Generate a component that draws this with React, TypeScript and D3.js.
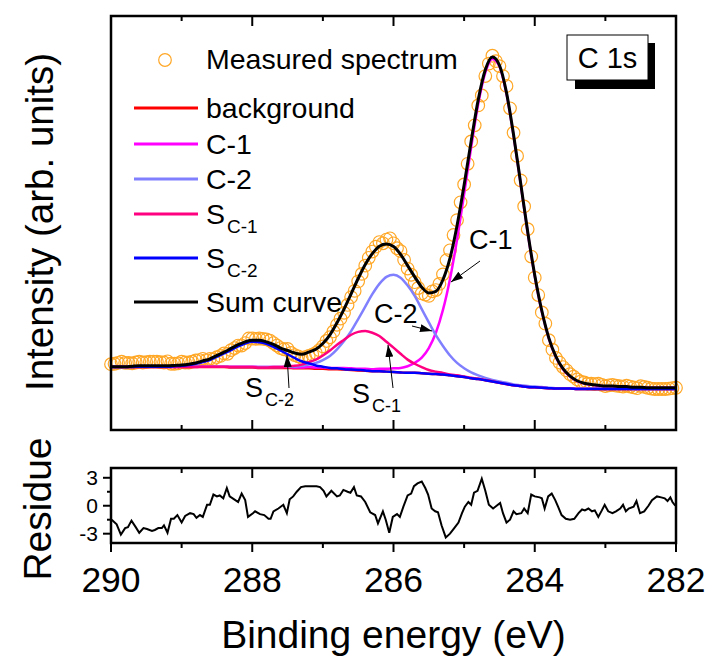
import React from "react";
import * as d3 from "d3";

// ---------- DATA ----------
// Fit grid: 290.0 -> 282.0 eV, step 0.1 eV (81 points)
const fitEnergy: number[] = d3.range(81).map((i) => +(290 - i * 0.1).toFixed(2));

const background: number[] = [
  15.2, 15.2, 15.2, 15.2, 15.2, 15.2, 15.2, 15.2, 15.2, 15.2,
  15.2, 15.2, 15.2, 15.2, 15.2, 15.2, 15.2, 15.1, 15.1, 15.1,
  15.1, 15.0, 15.0, 15.0, 15.0, 15.0, 14.9, 14.9, 14.9, 14.8,
  14.8, 14.7, 14.7, 14.6, 14.5, 14.4, 14.3, 14.2, 14.2, 14.1,
  14.0, 13.9, 13.8, 13.8, 13.7, 13.6, 13.5, 13.4, 13.2, 13.0,
  12.8, 12.5, 12.3, 12.0, 11.7, 11.4, 11.1, 10.8, 10.6, 10.4,
  10.3, 10.2, 10.1, 10.0, 10.0, 10.0, 9.9, 9.9, 9.9, 9.9,
  9.9, 9.9, 9.9, 9.9, 9.9, 9.9, 9.9, 9.9, 9.9, 9.9,
  9.9,
];

const c1Peak: number[] = [
  0.1, 0.1, 0.1, 0.1, 0.1, 0.1, 0.1, 0.1, 0.1, 0.1,
  0.1, 0.1, 0.1, 0.1, 0.1, 0.1, 0.1, 0.2, 0.2, 0.2,
  0.2, 0.2, 0.2, 0.2, 0.2, 0.2, 0.2, 0.2, 0.3, 0.3,
  0.3, 0.3, 0.3, 0.4, 0.4, 0.4, 0.5, 0.5, 0.6, 0.7,
  0.9, 1.1, 1.6, 2.4, 3.8, 6.2, 10.0, 15.6, 23.3, 33.0,
  44.2, 55.8, 66.5, 74.3, 77.9, 76.4, 70.1, 60.3, 48.9, 37.3,
  26.9, 18.4, 12.0, 7.6, 4.7, 2.9, 1.9, 1.3, 1.0, 0.8,
  0.6, 0.6, 0.5, 0.5, 0.4, 0.4, 0.3, 0.3, 0.3, 0.3,
  0.3,
];

const c2Peak: number[] = [
  0.0, 0.0, 0.0, 0.1, 0.1, 0.1, 0.1, 0.1, 0.1, 0.1,
  0.1, 0.1, 0.1, 0.1, 0.1, 0.1, 0.1, 0.1, 0.1, 0.1,
  0.1, 0.2, 0.2, 0.2, 0.2, 0.3, 0.4, 0.6, 0.9, 1.4,
  2.1, 3.2, 4.8, 6.9, 9.4, 12.4, 15.5, 18.6, 21.1, 22.9,
  23.5, 22.9, 21.1, 18.6, 15.5, 12.4, 9.4, 6.9, 4.8, 3.2,
  2.1, 1.4, 0.9, 0.6, 0.4, 0.3, 0.3, 0.2, 0.2, 0.2,
  0.2, 0.2, 0.1, 0.1, 0.1, 0.1, 0.1, 0.1, 0.1, 0.1,
  0.1, 0.1, 0.1, 0.1, 0.0, 0.0, 0.0, 0.0, 0.0, 0.0,
  0.0,
];

const sc1Peak: number[] = [
  0.0, 0.0, 0.0, 0.0, 0.0, 0.0, 0.0, 0.0, 0.0, 0.0,
  0.0, 0.0, 0.0, 0.1, 0.1, 0.1, 0.1, 0.1, 0.1, 0.1,
  0.1, 0.1, 0.1, 0.2, 0.2, 0.4, 0.6, 0.9, 1.5, 2.2,
  3.2, 4.5, 5.9, 7.2, 8.5, 9.3, 9.6, 9.3, 8.5, 7.2,
  5.9, 4.5, 3.2, 2.2, 1.5, 0.9, 0.6, 0.4, 0.2, 0.2,
  0.1, 0.1, 0.1, 0.1, 0.1, 0.0, 0.0, 0.0, 0.0, 0.0,
  0.0, 0.0, 0.0, 0.0, 0.0, 0.0, 0.0, 0.0, 0.0, 0.0,
  0.0, 0.0, 0.0, 0.0, 0.0, 0.0, 0.0, 0.0, 0.0, 0.0,
  0.0,
];

const sc2Peak: number[] = [
  0.0, 0.0, 0.0, 0.0, 0.1, 0.1, 0.1, 0.1, 0.1, 0.2,
  0.3, 0.5, 0.8, 1.2, 1.7, 2.5, 3.3, 4.2, 5.1, 5.8,
  6.2, 6.2, 5.8, 5.1, 4.2, 3.3, 2.5, 1.7, 1.2, 0.8,
  0.5, 0.3, 0.2, 0.1, 0.1, 0.1, 0.1, 0.0, 0.0, 0.0,
  0.0, 0.0, 0.0, 0.0, 0.0, 0.0, 0.0, 0.0, 0.0, 0.0,
  0.0, 0.0, 0.0, 0.0, 0.0, 0.0, 0.0, 0.0, 0.0, 0.0,
  0.0, 0.0, 0.0, 0.0, 0.0, 0.0, 0.0, 0.0, 0.0, 0.0,
  0.0, 0.0, 0.0, 0.0, 0.0, 0.0, 0.0, 0.0, 0.0, 0.0,
  0.0,
];

// Measured spectrum: 290.00 -> 282.00 eV, step 0.05 eV (161 points)
const measuredEnergy: number[] = d3.range(161).map((i) => +(290 - i * 0.05).toFixed(2));
const measured: number[] = [
  15.9, 16.0, 16.2, 16.5, 16.2, 16.2, 16.1, 16.3, 16.5, 16.3,
  16.4, 16.5, 16.5, 16.5, 16.4, 16.3, 16.6, 16.0, 16.0, 16.1,
  16.5, 16.3, 16.3, 16.5, 16.8, 16.9, 17.2, 16.9, 17.2, 17.1,
  17.6, 17.9, 18.5, 18.4, 19.3, 19.8, 20.4, 20.4, 21.0, 22.1,
  22.1, 22.0, 22.1, 22.0, 21.9, 21.6, 21.0, 20.4, 19.8, 19.5,
  19.6, 18.6, 18.1, 17.8, 17.4, 17.6, 17.9, 18.2, 18.6, 19.3,
  20.2, 21.5, 22.4, 23.8, 25.4, 26.9, 28.3, 30.2, 32.1, 33.6,
  35.9, 37.7, 39.7, 41.6, 43.1, 44.3, 45.4, 45.1, 46.0, 46.3,
  45.1, 43.9, 43.2, 41.1, 39.0, 37.5, 35.7, 34.3, 33.0, 32.7,
  32.4, 33.5, 33.8, 35.3, 37.6, 41.0, 43.4, 47.1, 50.7, 55.0,
  59.3, 64.3, 69.7, 73.6, 78.4, 80.8, 85.5, 88.5, 90.4, 89.1,
  87.9, 85.5, 83.1, 77.7, 71.8, 66.2, 60.3, 54.0, 48.5, 41.9,
  36.8, 32.6, 28.4, 25.7, 21.7, 19.4, 17.4, 16.3, 15.2, 14.4,
  13.5, 12.9, 12.2, 11.7, 11.5, 11.2, 11.2, 11.1, 11.2, 10.9,
  10.6, 10.8, 10.9, 10.7, 10.6, 10.5, 10.7, 10.5, 10.3, 10.1,
  10.6, 10.4, 10.2, 10.0, 9.9, 9.9, 9.9, 9.9, 10.0, 10.1,
  10.2,
];

// Residue trace
const residueEnergy: number[] = [
  289.99, 289.92, 289.86, 289.8, 289.76, 289.71, 289.65, 289.6, 289.54, 289.49,
  289.42, 289.38, 289.33, 289.28, 289.25, 289.2, 289.15, 289.11, 289.06, 289.0,
  288.95, 288.88, 288.83, 288.79, 288.74, 288.7, 288.64, 288.6, 288.55, 288.5,
  288.46, 288.41, 288.36, 288.32, 288.24, 288.2, 288.15, 288.1, 288.06, 287.99,
  287.96, 287.89, 287.83, 287.77, 287.74, 287.7, 287.63, 287.56, 287.51, 287.47,
  287.42, 287.37, 287.31, 287.25, 287.21, 287.16, 287.09, 287.04, 286.99, 286.95,
  286.88, 286.8, 286.76, 286.71, 286.65, 286.61, 286.56, 286.52, 286.46, 286.4,
  286.33, 286.26, 286.22, 286.15, 286.11, 286.06, 286.01, 285.95, 285.91, 285.86,
  285.8, 285.75, 285.71, 285.66, 285.6, 285.55, 285.51, 285.46, 285.41, 285.37,
  285.32, 285.26, 285.2, 285.14, 285.08, 285.03, 284.99, 284.94, 284.9, 284.86,
  284.81, 284.75, 284.7, 284.65, 284.59, 284.54, 284.49, 284.45, 284.4, 284.35,
  284.3, 284.26, 284.19, 284.15, 284.1, 284.05, 284.0, 283.93, 283.9, 283.86,
  283.81, 283.76, 283.71, 283.67, 283.62, 283.56, 283.5, 283.44, 283.38, 283.33,
  283.29, 283.24, 283.19, 283.15, 283.1, 283.05, 283.01, 282.96, 282.9, 282.85,
  282.79, 282.75, 282.71, 282.67, 282.6, 282.56, 282.51, 282.45, 282.39, 282.34,
  282.27, 282.21, 282.16, 282.12, 282.08, 282.05, 282.01,
];
const residueValue: number[] = [
  -1.5, -2.0, -3.1, -2.4, -2.3, -1.6, -2.3, -2.9, -2.4, -2.5,
  -2.7, -2.6, -2.4, -2.4, -2.1, -2.9, -1.4, -1.4, -1.0, -1.8,
  -1.1, -0.8, -0.9, -1.3, -1.0, -1.2, 0.1, 0.1, 1.2, 1.0,
  1.1, 0.8, 1.9, 1.0, 0.6, 0.4, 1.3, 0.6, -1.2, -0.8,
  -0.6, -0.9, -1.0, -1.4, -1.4, -0.6, -0.3, 0.1, -0.8, 0.7,
  1.0, 1.5, 2.0, 2.1, 2.1, 2.1, 2.1, 2.0, 1.6, 1.0,
  1.6, 1.0, 1.1, 1.7, 1.5, 1.4, 2.0, 1.1, 1.0, 0.4,
  -0.7, -1.0, -1.9, -0.6, -1.5, -2.9, -1.2, -0.9, -1.2, -0.1,
  1.1, 1.3, 2.1, 2.4, 2.6, 1.9, 1.2, -0.3, -0.6, -0.7,
  -2.1, -3.4, -3.0, -2.4, -1.8, -0.8, -0.1, 0.4, 0.1, 1.4,
  1.6, 2.9, 1.6, 0.1, -0.3, 0.0, 0.3, -0.8, -1.8, -1.5,
  -0.6, -0.9, -0.8, -0.3, -0.8, 1.2, 1.0, 0.9, 0.8, -0.3,
  1.0, 1.3, 0.6, -0.1, -1.0, -1.4, -1.5, -1.4, -0.8, -0.4,
  -0.5, -0.3, -0.6, -0.5, -1.2, -0.5, 0.1, -0.6, -0.8, -0.6,
  -0.3, 0.1, -0.6, -0.3, -0.1, 0.5, -0.8, -0.6, 0.0, 0.6,
  1.0, 0.9, 0.8, 0.5, 0.9, 0.4, 0.0,
];

const majorTicks: number[] = [290, 288, 286, 284, 282];
const minorTicks: number[] = [289, 287, 285, 283];
const residueMajor: number[] = [3, 0, -3];
const residueMinor: number[] = [1.5, -1.5];

// ---------- LAYOUT ----------
const W = 708;
const H = 657;
const L = 111;
const R = 676;
const mainTop = 16;
const mainBottom = 430;
const resTop = 468;
const resBottom = 543;
const FONT = "'Liberation Sans', Arial, Helvetica, sans-serif";

const x = d3.scaleLinear().domain([290, 282]).range([L, R]);
const y = d3.scaleLinear().domain([0, 100]).range([mainBottom, mainTop]);
const yr = d3.scaleLinear().domain([-4, 4.05]).range([resBottom, resTop]);

const curveLine = d3
  .line<[number, number]>()
  .x((d) => x(d[0]))
  .y((d) => y(d[1]))
  .curve(d3.curveMonotoneX);

const series = (peak: number[] | null): [number, number][] =>
  fitEnergy.map((e, i) => [e, background[i] + (peak ? peak[i] : 0)]);

const sumCurve: [number, number][] = fitEnergy.map((e, i) => [
  e,
  background[i] + c1Peak[i] + c2Peak[i] + sc1Peak[i] + sc2Peak[i],
]);

const residueLine = d3
  .line<number>()
  .x((_, i) => x(residueEnergy[i]))
  .y((d) => yr(d))
  .curve(d3.curveLinear);

const COLORS = {
  measured: "#FFA726",
  background: "#FF0000",
  c1: "#FF00FF",
  c2: "#8080FF",
  sc1: "#FF0080",
  sc2: "#0000FF",
  sum: "#000000",
};

export default function App() {
  const legendRows = [
    { y: 108, color: COLORS.background, main: "background", sub: "" },
    { y: 144, color: COLORS.c1, main: "C-1", sub: "" },
    { y: 179, color: COLORS.c2, main: "C-2", sub: "" },
    { y: 214, color: COLORS.sc1, main: "S", sub: "C-1" },
    { y: 258, color: COLORS.sc2, main: "S", sub: "C-2" },
    { y: 302, color: COLORS.sum, main: "Sum curve", sub: "" },
  ];

  return (
    <svg
      width={W}
      height={H}
      viewBox={`0 0 ${W} ${H}`}
      style={{ position: "absolute", left: 0, top: 0, background: "#fff" }}
      fontFamily={FONT}
    >
      <defs>
        <marker
          id="arrow"
          viewBox="0 0 12 8"
          refX="12"
          refY="4"
          markerWidth="12"
          markerHeight="8"
          markerUnits="userSpaceOnUse"
          orient="auto"
        >
          <path d="M0,0 L12,4 L0,8 Z" fill="#000" />
        </marker>
      </defs>

      {/* measured circles */}
      <g fill="none" stroke={COLORS.measured} strokeWidth={1.2}>
        {measured.map((v, i) => (
          <circle key={i} cx={x(measuredEnergy[i])} cy={y(v)} r={6.3} />
        ))}
      </g>

      {/* component curves */}
      <g fill="none" strokeWidth={2.5}>
        <path d={curveLine(series(null)) || ""} stroke={COLORS.background} />
        <path d={curveLine(series(c1Peak)) || ""} stroke={COLORS.c1} />
        <path d={curveLine(series(c2Peak)) || ""} stroke={COLORS.c2} />
        <path d={curveLine(series(sc1Peak)) || ""} stroke={COLORS.sc1} />
        <path d={curveLine(series(sc2Peak)) || ""} stroke={COLORS.sc2} />
        <path d={curveLine(sumCurve) || ""} stroke={COLORS.sum} strokeWidth={3} />
      </g>

      {/* main frame */}
      <rect
        x={L}
        y={mainTop}
        width={R - L}
        height={mainBottom - mainTop}
        fill="none"
        stroke="#000"
        strokeWidth={2.5}
      />
      <g stroke="#000" strokeWidth={2}>
        {majorTicks.map((t) => (
          <g key={"mt" + t}>
            <line x1={x(t)} x2={x(t)} y1={mainTop} y2={mainTop + 10} />
            <line x1={x(t)} x2={x(t)} y1={mainBottom} y2={mainBottom - 10} />
          </g>
        ))}
        {minorTicks.map((t) => (
          <g key={"mn" + t}>
            <line x1={x(t)} x2={x(t)} y1={mainTop} y2={mainTop + 5} />
            <line x1={x(t)} x2={x(t)} y1={mainBottom} y2={mainBottom - 5} />
          </g>
        ))}
      </g>

      {/* legend */}
      <circle cx={165} cy={60} r={6.3} fill="none" stroke={COLORS.measured} strokeWidth={1.2} />
      <text x={206} y={69} fontSize={28.5}>
        Measured spectrum
      </text>
      {legendRows.map((r) => (
        <g key={r.y}>
          <line x1={134} x2={198} y1={r.y} y2={r.y} stroke={r.color} strokeWidth={3} />
          <text x={206} y={r.y + 10} fontSize={28.5}>
            {r.main}
            {r.sub ? (
              <tspan fontSize={19} dx={2} dy={9}>
                {r.sub}
              </tspan>
            ) : null}
          </text>
        </g>
      ))}

      {/* C 1s label box */}
      <rect x={575} y={43} width={80} height={46} fill="#000" />
      <rect x={567} y={35} width={81} height={45} fill="#fff" stroke="#000" strokeWidth={1} />
      <text x={607.5} y={68} fontSize={29} textAnchor="middle">
        C 1s
      </text>

      {/* annotations */}
      <g fontSize={27}>
        <text x={469} y={249}>C-1</text>
        <text x={374} y={323}>C-2</text>
        <text x={245} y={397}>
          S
          <tspan fontSize={18} dx={2} dy={9}>
            C-2
          </tspan>
        </text>
        <text x={352} y={403}>
          S
          <tspan fontSize={18} dx={2} dy={9}>
            C-1
          </tspan>
        </text>
      </g>
      <g stroke="#000" strokeWidth={1}>
        <line x1={480} y1={261} x2={451} y2={282} markerEnd="url(#arrow)" />
        <line x1={412} y1={326} x2={432} y2={331} markerEnd="url(#arrow)" />
        <line x1={289} y1={388} x2={287} y2={355} markerEnd="url(#arrow)" />
        <line x1={393} y1={388} x2={388} y2={345} markerEnd="url(#arrow)" />
      </g>

      {/* residue panel */}
      <path d={residueLine(residueValue) || ""} fill="none" stroke="#000" strokeWidth={2} />
      <rect
        x={L}
        y={resTop}
        width={R - L}
        height={resBottom - resTop}
        fill="none"
        stroke="#000"
        strokeWidth={2.5}
      />
      <g stroke="#000" strokeWidth={2}>
        {majorTicks.map((t) => (
          <g key={"rt" + t}>
            <line x1={x(t)} x2={x(t)} y1={resTop} y2={resTop + 10} />
            <line x1={x(t)} x2={x(t)} y1={resBottom} y2={resBottom + 9} />
          </g>
        ))}
        {minorTicks.map((t) => (
          <g key={"rn" + t}>
            <line x1={x(t)} x2={x(t)} y1={resTop} y2={resTop + 5} />
            <line x1={x(t)} x2={x(t)} y1={resBottom} y2={resBottom + 5} />
          </g>
        ))}
        {residueMajor.map((t) => (
          <line key={"ry" + t} x1={L} x2={L - 8} y1={yr(t)} y2={yr(t)} />
        ))}
        {residueMinor.map((t) => (
          <line key={"rym" + t} x1={L} x2={L - 4} y1={yr(t)} y2={yr(t)} />
        ))}
      </g>
      <g fontSize={21} textAnchor="end">
        {residueMajor.map((t) => (
          <text key={"ryl" + t} x={98} y={yr(t) + 7.5}>
            {t}
          </text>
        ))}
      </g>

      {/* x tick labels */}
      <g fontSize={35.5} textAnchor="middle">
        {majorTicks.map((t) => (
          <text key={"xl" + t} x={x(t)} y={592}>
            {t}
          </text>
        ))}
      </g>

      {/* axis titles */}
      <text x={393.5} y={648} fontSize={39} textAnchor="middle">
        Binding energy (eV)
      </text>
      <text
        transform="translate(53,222) rotate(-90)"
        fontSize={38.5}
        textAnchor="middle"
      >
        Intensity (arb. units)
      </text>
      <text
        transform="translate(51,509) rotate(-90)"
        fontSize={39}
        textAnchor="middle"
      >
        Residue
      </text>
    </svg>
  );
}
